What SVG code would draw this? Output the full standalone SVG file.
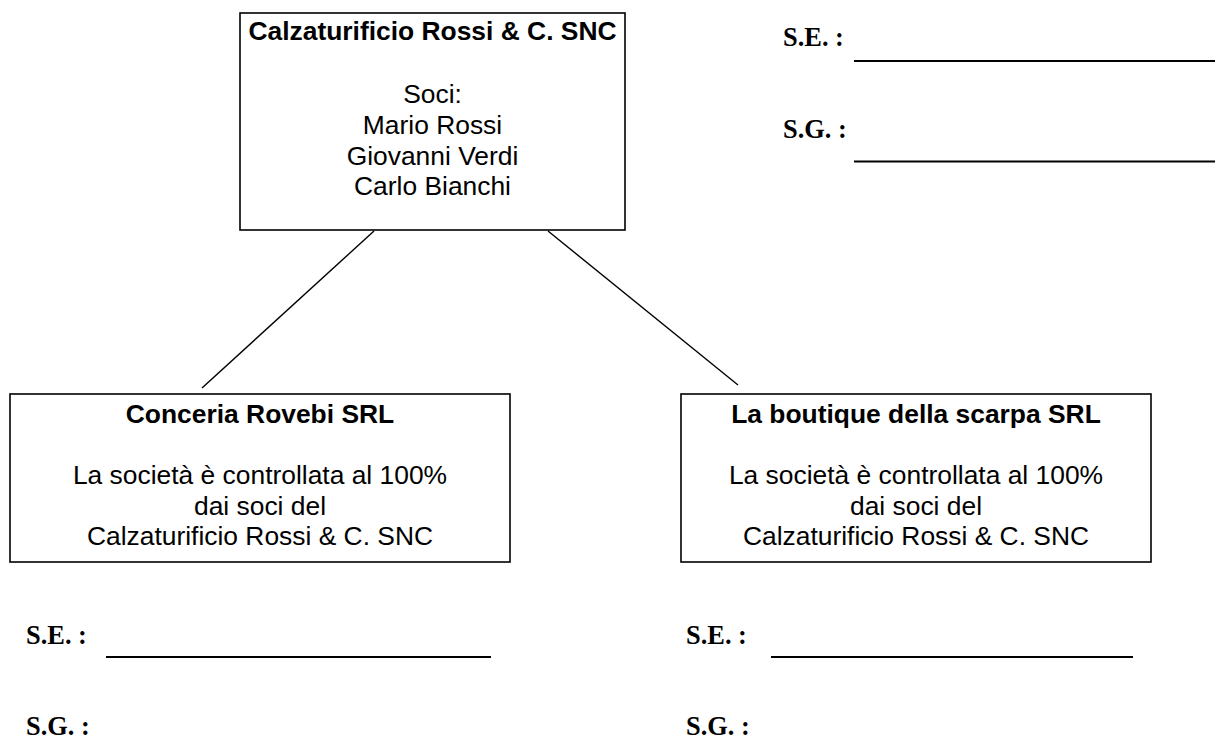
<svg xmlns="http://www.w3.org/2000/svg" width="1215" height="756" viewBox="0 0 1215 756">
<style>
.box{fill:#fff;stroke:#000;stroke-width:1.6}
.t{font-family:"Liberation Sans",Arial,sans-serif;font-size:26.4px;text-anchor:middle;fill:#000}
.b{font-weight:bold}
.lab{font-family:"Liberation Serif","Times New Roman",serif;font-size:26.4px;font-weight:bold;fill:#000}
.ul{stroke:#000;stroke-width:2}
.con{stroke:#000;stroke-width:1.4;fill:none}
</style>
<rect width="1215" height="756" fill="#fff"/>
<g id="connectors">
<line class="con" x1="374" y1="231" x2="202" y2="388"/>
<line class="con" x1="548" y1="231" x2="738" y2="385"/>
</g>
<g id="node-top">
<rect class="box" x="240" y="13" width="385" height="217"/>
<text class="t b" x="432.5" y="39.5">Calzaturificio Rossi &amp; C. SNC</text>
<text class="t" x="432.5" y="103">Soci:</text>
<text class="t" x="432.5" y="133.5">Mario Rossi</text>
<text class="t" x="432.5" y="164.5">Giovanni Verdi</text>
<text class="t" x="432.5" y="195">Carlo Bianchi</text>
</g>
<g id="node-left">
<rect class="box" x="10" y="394" width="500" height="168"/>
<text class="t b" x="260" y="423">Conceria Rovebi SRL</text>
<text class="t" x="260" y="484">La società è controllata al 100%</text>
<text class="t" x="260" y="515">dai soci del</text>
<text class="t" x="260" y="545">Calzaturificio Rossi &amp; C. SNC</text>
</g>
<g id="node-right">
<rect class="box" x="681" y="394" width="470" height="168"/>
<text class="t b" x="916" y="423">La boutique della scarpa SRL</text>
<text class="t" x="916" y="484">La società è controllata al 100%</text>
<text class="t" x="916" y="515">dai soci del</text>
<text class="t" x="916" y="545">Calzaturificio Rossi &amp; C. SNC</text>
</g>
<g id="sign-top">
<text class="lab" x="783" y="46">S.E. :</text>
<line class="ul" x1="854" y1="61" x2="1215" y2="61"/>
<text class="lab" x="783" y="138">S.G. :</text>
<line class="ul" x1="854" y1="161.5" x2="1215" y2="161.5"/>
</g>
<g id="sign-left">
<text class="lab" x="26" y="644">S.E. :</text>
<line class="ul" x1="106" y1="657" x2="491" y2="657"/>
<text class="lab" x="26" y="735">S.G. :</text>
</g>
<g id="sign-right">
<text class="lab" x="686" y="644">S.E. :</text>
<line class="ul" x1="771" y1="657" x2="1133" y2="657"/>
<text class="lab" x="686" y="735">S.G. :</text>
</g>
</svg>
